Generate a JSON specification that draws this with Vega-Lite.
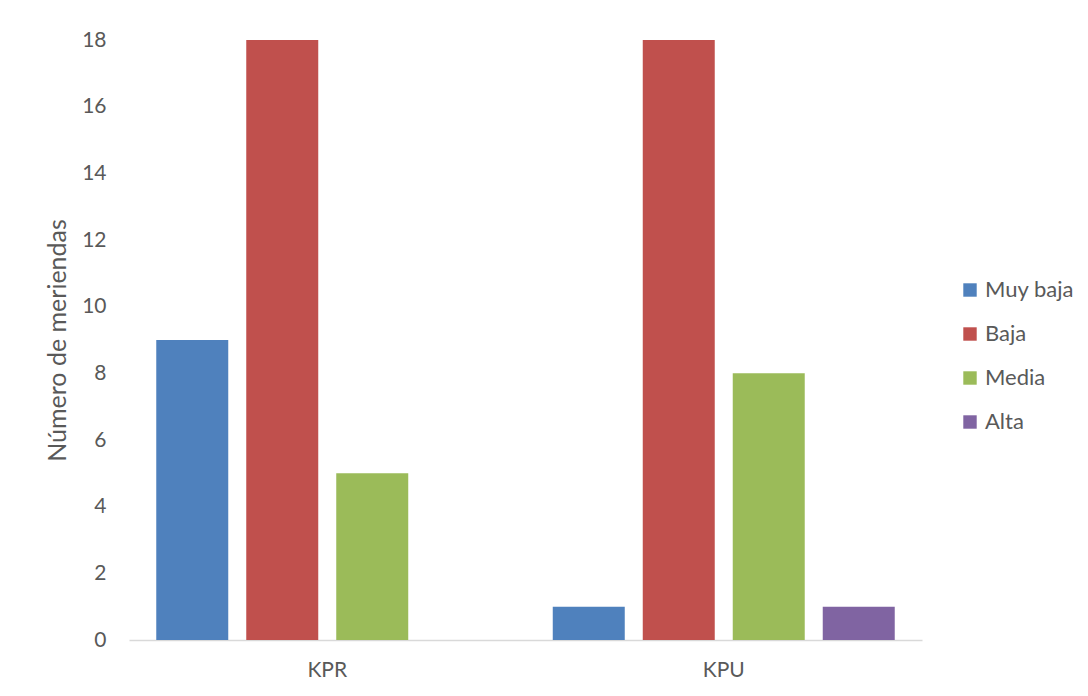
{
  "$schema": "https://vega.github.io/schema/vega-lite/v6.json",
  "autosize": "none",
  "width": 793,
  "height": 600,
  "padding": {"left": 129, "top": 40, "right": 166, "bottom": 56},
  "background": "white",
  "config": {
    "view": {"stroke": null},
    "font": "Lato",
    "axis": {"labelFont": "Lato", "titleFont": "Lato", "labelColor": "#595959", "titleColor": "#595959"},
    "legend": {"labelFont": "Lato", "labelColor": "#595959"}
  },
  "data": {
    "values": [
      {"grupo": "KPR", "categoria": "Muy baja", "valor": 9},
      {"grupo": "KPR", "categoria": "Baja", "valor": 18},
      {"grupo": "KPR", "categoria": "Media", "valor": 5},
      {"grupo": "KPU", "categoria": "Muy baja", "valor": 1},
      {"grupo": "KPU", "categoria": "Baja", "valor": 18},
      {"grupo": "KPU", "categoria": "Media", "valor": 8},
      {"grupo": "KPU", "categoria": "Alta", "valor": 1}
    ]
  },
  "mark": {"type": "bar"},
  "encoding": {
    "x": {
      "field": "grupo",
      "type": "nominal",
      "scale": {"paddingInner": 0.1375, "paddingOuter": 0.06875},
      "axis": {
        "title": null,
        "labelAngle": 0,
        "labelFontSize": 21,
        "labelPadding": 19,
        "ticks": false,
        "domainColor": "#d9d9d9",
        "domainWidth": 1.5
      }
    },
    "xOffset": {
      "field": "categoria",
      "type": "nominal",
      "scale": {"domain": ["Muy baja", "Baja", "Media", "Alta"], "paddingInner": 0.2, "paddingOuter": 0}
    },
    "y": {
      "field": "valor",
      "type": "quantitative",
      "scale": {"domain": [0, 18], "nice": false},
      "axis": {
        "title": "Número de meriendas",
        "values": [0, 2, 4, 6, 8, 10, 12, 14, 16, 18],
        "grid": false,
        "domain": false,
        "ticks": false,
        "labelFontSize": 21,
        "labelPadding": 23,
        "titleFontSize": 25,
        "titleFontWeight": "normal",
        "titlePadding": 11
      }
    },
    "color": {
      "field": "categoria",
      "type": "nominal",
      "scale": {"domain": ["Muy baja", "Baja", "Media", "Alta"], "range": ["#4f81bd", "#c0504d", "#9bbb59", "#8064a2"]},
      "legend": {
        "title": null,
        "orient": "none",
        "legendX": 830,
        "legendY": 239,
        "symbolType": "square",
        "symbolSize": 180,
        "symbolStrokeWidth": 0,
        "labelFontSize": 22,
        "labelOffset": 4,
        "rowPadding": 22
      }
    }
  }
}
